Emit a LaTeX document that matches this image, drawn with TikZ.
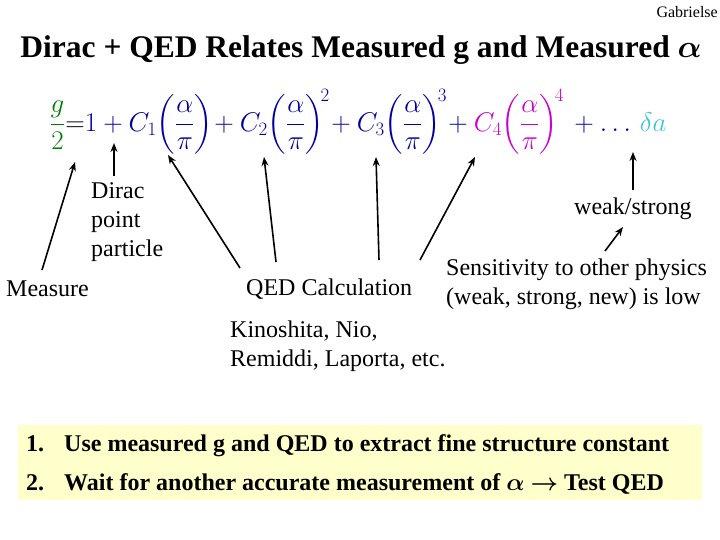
\documentclass[tikz,border=0pt]{standalone}
\usepackage{fix-cm}
\usetikzlibrary{arrows.meta}
\usepackage{amsmath}
\usepackage{fontspec}
\setmainfont{Liberation Serif}
\begin{document}
\begin{tikzpicture}[x=1pt,y=-1pt,
  arr/.style={-{Stealth[length=9pt,width=7pt]},line width=1.6pt},
  lab/.style={font=\fontsize{24}{29}\selectfont,align=left,inner sep=0pt}]
\definecolor{eqblue}{RGB}{0,0,160}
\definecolor{eqgreen}{RGB}{0,128,0}
\definecolor{eqmag}{RGB}{204,0,204}
\definecolor{eqcyan}{RGB}{60,200,210}
\definecolor{boxyel}{RGB}{255,255,204}
\useasboundingbox (0,0) rectangle (720,540);
\fill[boxyel] (18,425) rectangle (702,500);
\node[anchor=north east,font=\fontsize{16}{18}\selectfont,inner sep=0pt] (auth) at (718,6) {Gabrielse};
\node[font=\bfseries\fontsize{31.5}{34}\selectfont,inner sep=0pt] (title) at (361,50) {Dirac + QED Relates Measured g and Measured $\boldsymbol{\alpha}$};
\node[inner sep=0pt,font=\fontsize{27}{32}\selectfont] (eq) at (358,122) {$\color{eqgreen}\dfrac{g}{2}\color{black}{=}\color{eqblue}1+C_1\!\left(\dfrac{\alpha}{\pi}\right)\!+C_2\!\left(\dfrac{\alpha}{\pi}\right)^{\!2}\!+C_3\!\left(\dfrac{\alpha}{\pi}\right)^{\!3}\!\color{eqblue}+\color{eqmag}C_4\!\left(\dfrac{\alpha}{\pi}\right)^{\!4}\,\color{eqblue}+\ldots\,\color{eqcyan}\delta a$};
\node[lab,anchor=west] (meas) at (6,289) {Measure};
\node[lab,anchor=north west] (dirac) at (91,182) {Dirac\\point\\particle};
\node[lab,anchor=west] (qed) at (246,289) {QED Calculation};
\node[lab,anchor=west] (weak) at (574,209) {weak/strong};
\node[lab,anchor=north west] (sens) at (446,259) {Sensitivity to other physics\\(weak, strong, new) is low};
\node[lab,anchor=north west] (kino) at (230,321) {Kinoshita, Nio,\\Remiddi, Laporta, etc.};
\coordinate (m0) at (42,270); \coordinate (m1) at (75,162);
\coordinate (d0) at (114,176); \coordinate (d1) at (114,143);
\coordinate (q10) at (240,268); \coordinate (q11) at (168,155);
\coordinate (q20) at (276,262); \coordinate (q21) at (264,157);
\coordinate (q30) at (379,260); \coordinate (q31) at (376,157);
\coordinate (q40) at (420,260); \coordinate (q41) at (475,157);
\coordinate (w0) at (633,190); \coordinate (w1) at (633,152);
\coordinate (s0) at (605,251); \coordinate (s1) at (623,227);
\foreach \a in {m,d,q1,q2,q3,q4,w,s} \draw[arr] (\a0) -- (\a1);
\node[font=\bfseries\fontsize{24}{28}\selectfont,anchor=west,inner sep=0pt] (l1) at (26,446) {1.\hspace{20pt}Use measured g and QED to extract fine structure constant};
\node[font=\bfseries\fontsize{24}{28}\selectfont,anchor=west,inner sep=0pt] (l2) at (26,484) {2.\hspace{20pt}Wait for another accurate measurement of $\boldsymbol{\alpha}$ $\boldsymbol{\rightarrow}$ Test QED};
\end{tikzpicture}
\end{document}
